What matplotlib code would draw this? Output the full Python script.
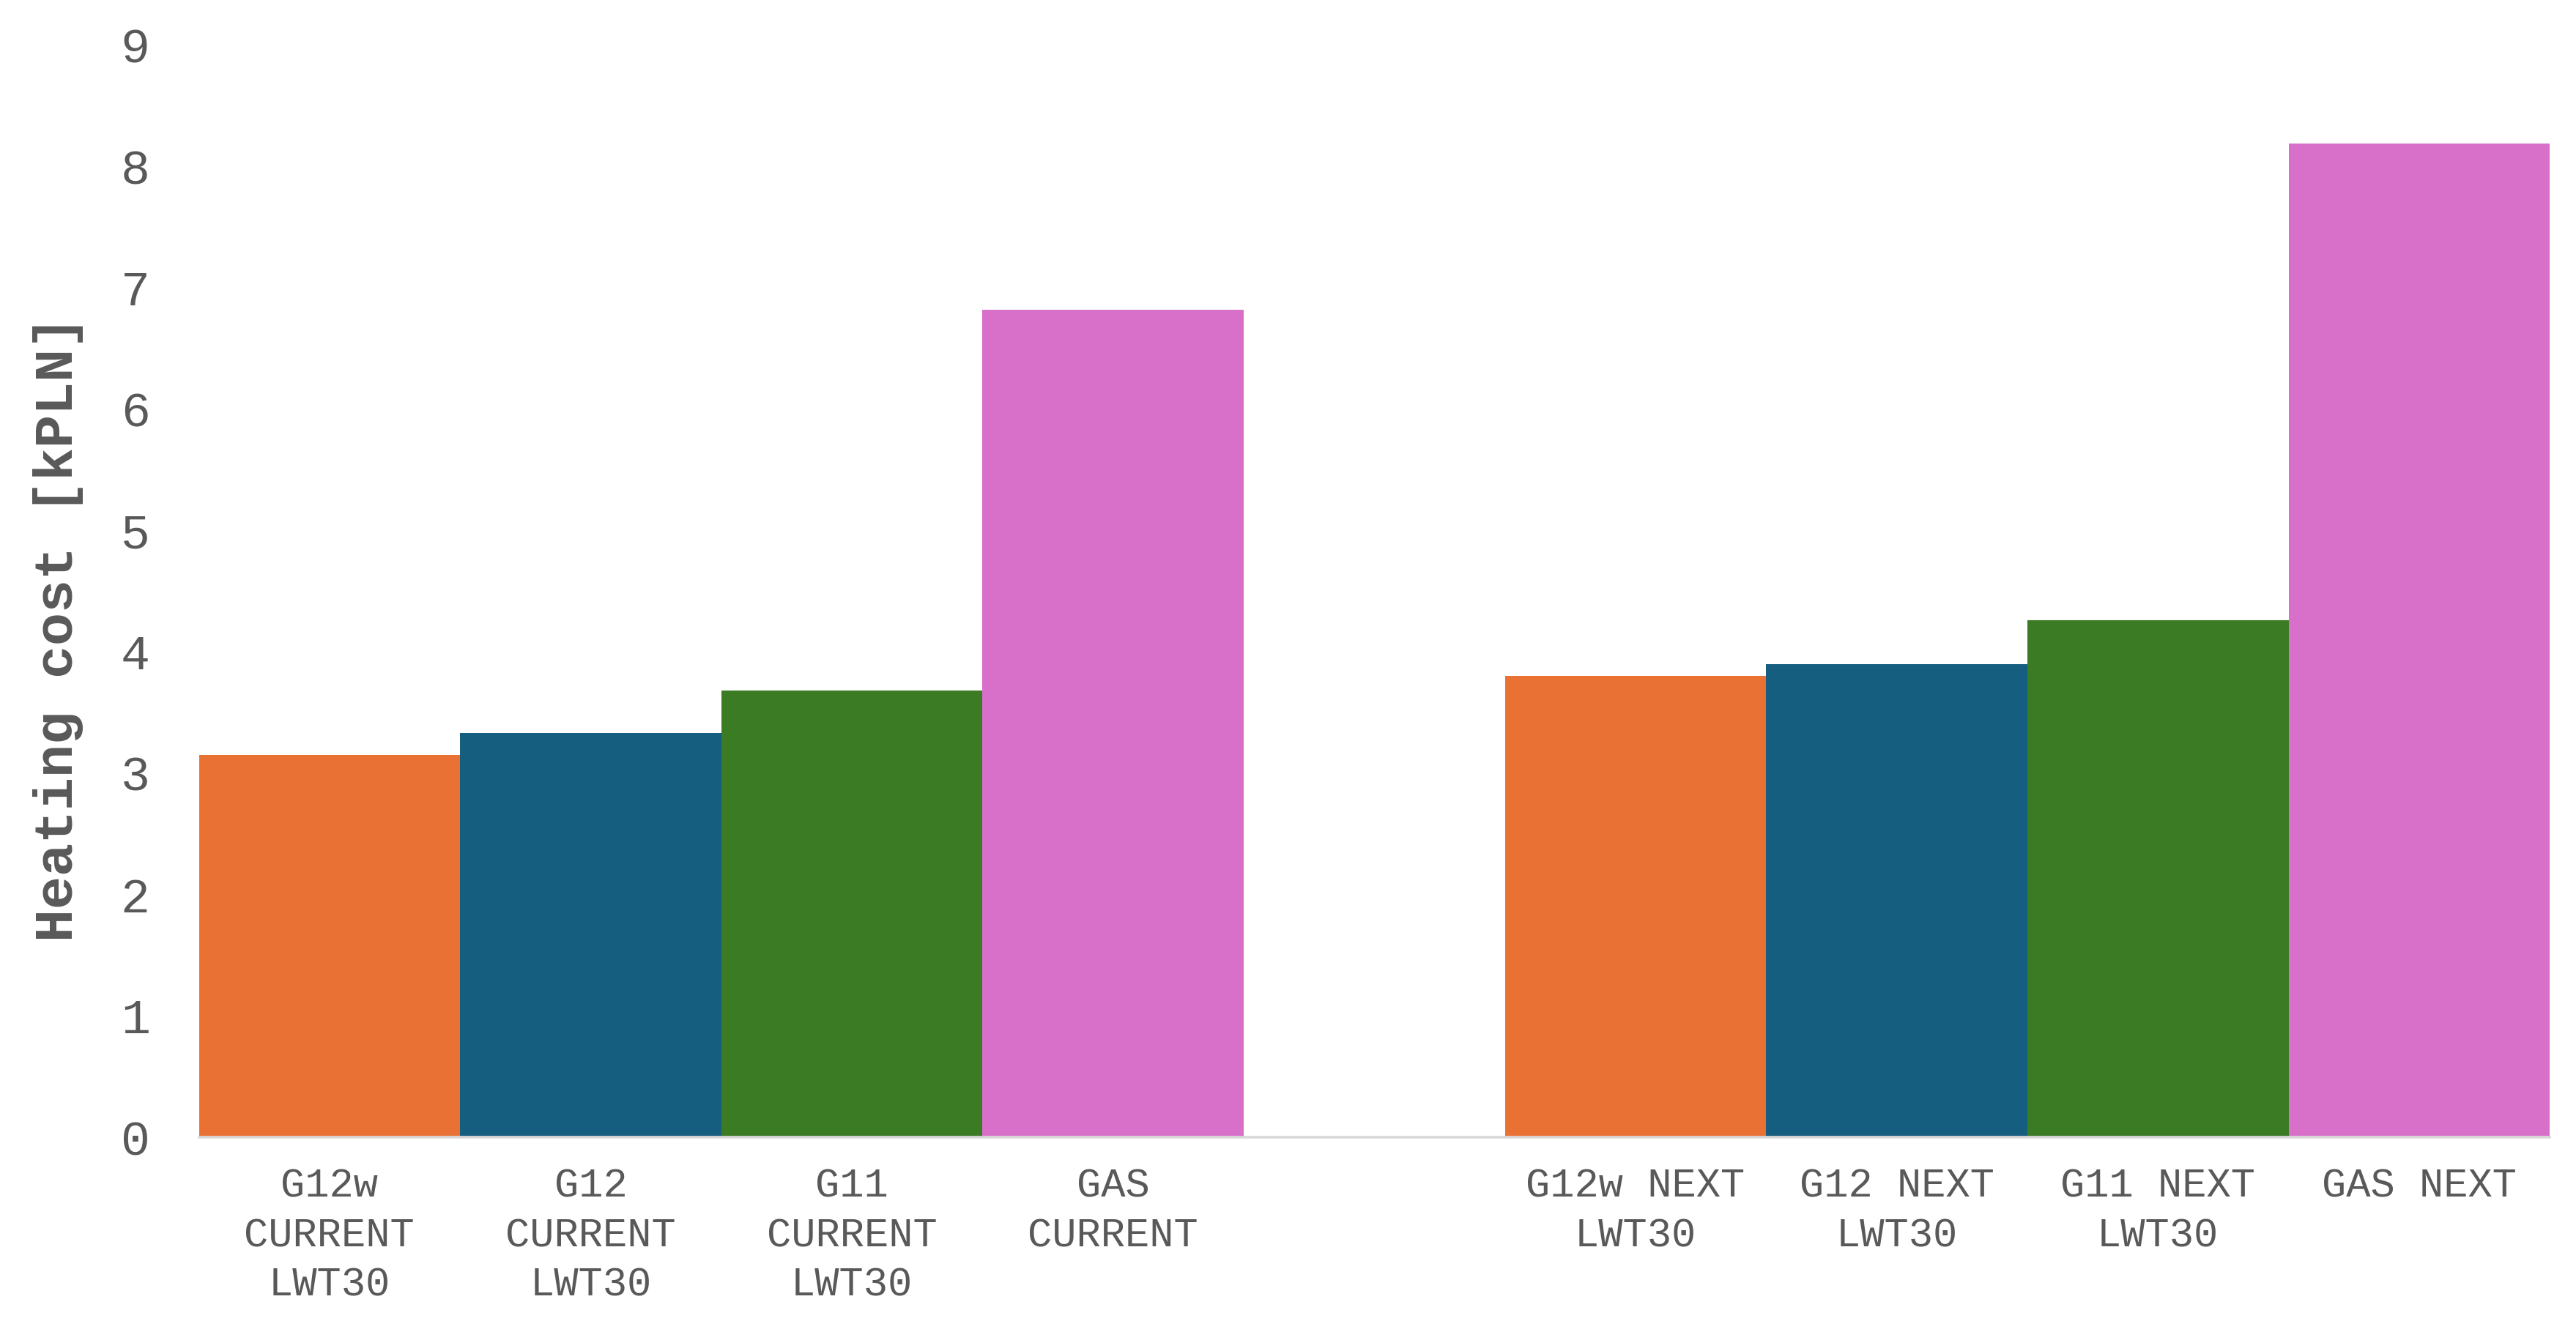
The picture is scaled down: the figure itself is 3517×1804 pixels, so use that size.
import numpy as np
import matplotlib
matplotlib.use("Agg")
import matplotlib.pyplot as plt

# data
labels = ["G12w\nCURRENT\nLWT30", "G12\nCURRENT\nLWT30", "G11\nCURRENT\nLWT30", "GAS\nCURRENT",
          "G12w NEXT\nLWT30", "G12 NEXT\nLWT30", "G11 NEXT\nLWT30", "GAS NEXT"]
costs = [3.15, 3.33, 3.68, 6.82, 3.80, 3.90, 4.26, 8.19]
colors = ["#E97134", "#165E80", "#3B7B24", "#D86FC9"] * 2
yticks = list(range(0, 10))

plt.rcParams['font.family'] = ['Liberation Mono', 'DejaVu Sans Mono']

# one empty slot between CURRENT and NEXT groups
pos = np.r_[0:4, 5:9]

fig = plt.figure(figsize=(17.585, 9.02), dpi=200)
ax = fig.add_axes([0.0772, 0.139, 0.9126, 0.827])

ax.bar(pos, costs, width=1.0, color=colors, linewidth=0)

ax.set_xlim(-0.5, 8.5)
ax.set_ylim(0, 9)
ax.set_yticks(yticks)
ax.set_xticks(pos)
ax.set_xticklabels(labels, fontsize=20, color="#595959", linespacing=1.38, va="top")
ax.tick_params(axis="y", length=0, pad=24, labelsize=24, labelcolor="#595959")
ax.tick_params(axis="x", length=0, pad=15)

for s in ["top", "right", "left"]:
    ax.spines[s].set_visible(False)
ax.spines["bottom"].set_color("#D9D9D9")
ax.spines["bottom"].set_linewidth(1.3)

ax.set_ylabel("Heating cost [kPLN]", fontsize=27, fontweight="bold", color="#595959")
ax.yaxis.set_label_coords(-0.049, 0.466)

fig.savefig("out.png", dpi=200, facecolor="white")
